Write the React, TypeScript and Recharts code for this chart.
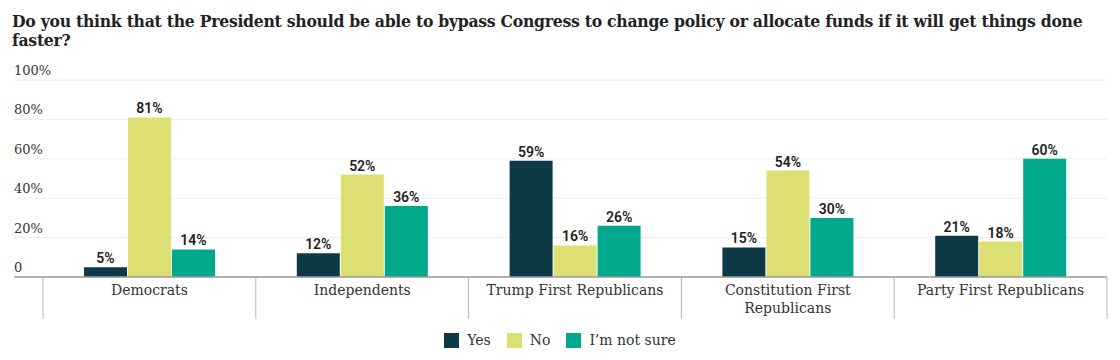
import * as React from "react";
import { BarChart, Bar, XAxis, YAxis, CartesianGrid, LabelList } from "recharts";

const categories = [
  "Democrats",
  "Independents",
  "Trump First Republicans",
  "Constitution First Republicans",
  "Party First Republicans",
];
const yesValues = [5, 12, 59, 15, 21];
const noValues = [81, 52, 16, 54, 18];
const notSureValues = [14, 36, 26, 30, 60];
const yTicks = [0, 20, 40, 60, 80, 100];

const seriesNames = ["Yes", "No", "I\u2019m not sure"];
const seriesKeys = ["yes", "no", "notSure"];
const seriesColors = ["#0e3a48", "#dcdf72", "#00a98b"];

const data = categories.map((name, i) => ({
  name,
  yes: yesValues[i],
  no: noValues[i],
  notSure: notSureValues[i],
}));

const WIDTH = 1120;
const HEIGHT = 360;
const Y_AXIS_W = 29;
const X_AXIS_H = 30;
const MARGIN = { top: 80, right: 13, bottom: 83 - X_AXIS_H, left: 43 - Y_AXIS_W };
const PLOT_LEFT = 43;
const BAND = (WIDTH - PLOT_LEFT - MARGIN.right) / categories.length;
const SLAB = '"DejaVu Serif", serif';

// y tick: label above the gridline at the left edge; short stub of the line out to the plot
function YTick(props: any) {
  const { y, payload } = props;
  const isZero = payload.value === 0;
  return (
    <g>
      <line
        x1={14}
        x2={PLOT_LEFT}
        y1={y}
        y2={y}
        stroke={isZero ? "#9a9a9a" : "#eeeeee"}
        strokeWidth={isZero ? 1.5 : 1}
      />
      <text x={14} y={y - 5} fontSize={13} fill="#333" fontFamily={SLAB}>
        {isZero ? "0" : `${payload.value}%`}
      </text>
    </g>
  );
}

function XTick(props: any) {
  const { x, payload, index } = props;
  const y = HEIGHT - 83;
  const label: string = payload.value;
  const lines = label === "Constitution First Republicans" ? ["Constitution First", "Republicans"] : [label];
  const left = x - BAND / 2;
  return (
    <g>
      <line x1={left} x2={left} y1={y} y2={y + 42} stroke="#b5b5b5" />
      {index === categories.length - 1 && (
        <line x1={left + BAND} x2={left + BAND} y1={y} y2={y + 42} stroke="#b5b5b5" />
      )}
      <text x={x} y={y + 18} textAnchor="middle" fontSize={14} fill="#333" fontFamily={SLAB}>
        {lines.map((l, i) => (
          <tspan key={i} x={x} dy={i === 0 ? 0 : 18}>
            {l}
          </tspan>
        ))}
      </text>
    </g>
  );
}

const titleStyle: React.CSSProperties = {
  position: "absolute",
  left: 12,
  whiteSpace: "nowrap",
  fontFamily: SLAB,
  fontWeight: 700,
  fontSize: 17,
  letterSpacing: -0.3,
  lineHeight: "19.5px",
  color: "#222",
  transform: "scaleX(0.922)",
  transformOrigin: "left top",
};

export default function App() {
  return (
    <div style={{ position: "relative", width: WIDTH, height: HEIGHT, margin: -8, background: "#fff" }}>
      <div style={{ ...titleStyle, top: 11.5 }}>
        Do you think that the President should be able to bypass Congress to change policy or allocate funds if it will get things done
      </div>
      <div style={{ ...titleStyle, top: 31 }}>faster?</div>
      <BarChart width={WIDTH} height={HEIGHT} data={data} margin={MARGIN} barSize={43} barGap={1}>
        <CartesianGrid vertical={false} stroke="#eeeeee" strokeDasharray="" />
        <XAxis
          dataKey="name"
          height={X_AXIS_H}
          axisLine={{ stroke: "#9a9a9a", strokeWidth: 1.5 }}
          tickLine={false}
          tick={<XTick />}
          interval={0}
        />
        <YAxis domain={[0, 100]} ticks={yTicks} width={Y_AXIS_W} axisLine={false} tickLine={false} tick={<YTick />} />
        {seriesKeys.map((k, i) => (
          <Bar key={k} dataKey={k} name={seriesNames[i]} fill={seriesColors[i]} isAnimationActive={false}>
            <LabelList
              dataKey={k}
              position="top"
              offset={4}
              formatter={(v: any) => `${v}%`}
              style={{ fontFamily: "Roboto, sans-serif", fontWeight: 600, fontSize: 14, fill: "#222" }}
            />
          </Bar>
        ))}
      </BarChart>
      <div
        style={{
          position: "absolute",
          top: 332,
          left: 0,
          width: WIDTH,
          display: "flex",
          justifyContent: "center",
          gap: 16,
          fontFamily: SLAB,
          fontSize: 14,
          color: "#333",
        }}
      >
        {seriesNames.map((n, i) => (
          <div key={n} style={{ display: "flex", alignItems: "center", gap: 8 }}>
            <span style={{ width: 15, height: 15, background: seriesColors[i], display: "inline-block" }} />
            <span>{n}</span>
          </div>
        ))}
      </div>
    </div>
  );
}
